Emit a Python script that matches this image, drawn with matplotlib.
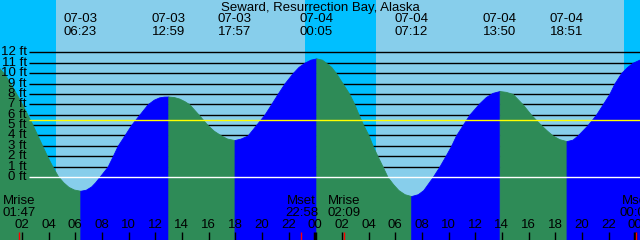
import matplotlib.pyplot as plt
from matplotlib.transforms import blended_transform_factory

plt.rcParams['font.family'] = ['Liberation Sans', 'DejaVu Sans']

title = 'Seward, Resurrection Bay, Alaska'

# tide extremes (high / low) as printed on the chart
ext_dates = ['07-03', '07-03', '07-03', '07-04', '07-04', '07-04', '07-04']
ext_times = ['06:23', '12:59', '17:57', '00:05', '07:12', '13:50', '18:51']
ext_feet = [-1.32, 7.75, 3.56, 11.42, -1.83, 8.28, 3.46]

# tide height (hours since 07-03 00:00, feet)
curve_hours = [0.30, 0.70, 1.10, 1.50, 1.90, 2.30, 2.70, 3.10, 3.50, 3.90, 4.30, 4.70,
               5.10, 5.50, 5.90,
               6.80, 7.20, 7.50, 7.81, 8.43, 8.81, 9.18, 9.69, 10.19, 10.81, 11.43,
               11.90, 12.30, 12.65,
               13.40, 13.81, 14.20, 14.56, 15.26, 15.93, 16.40, 16.94, 17.40,
               18.40, 18.93, 19.56, 20.19, 20.69, 21.18, 21.69, 22.31, 22.75, 23.19,
               23.65,
               24.50, 24.81, 25.20, 25.56, 26.06, 26.56, 26.94, 27.26, 27.61, 28.01,
               28.31, 28.68, 29.06, 29.43, 29.85, 30.24, 30.70,
               31.70, 32.11, 32.81, 33.31, 33.76, 34.19, 34.56, 35.06, 35.56, 36.31,
               36.80, 37.30,
               38.30, 38.81, 39.56, 40.19, 40.94, 41.40, 41.81, 42.30,
               43.30, 43.68, 44.43, 45.06, 45.56, 46.06, 46.44, 46.94, 47.40, 47.81,
               48.40]
curve_feet = [10.50, 9.90, 9.10, 8.20, 7.30, 6.30, 5.30, 4.20, 3.10, 2.00, 1.00, 0.10,
              -0.50, -0.95, -1.20,
              -1.22, -0.90, -0.50, 0.00, 1.00, 2.00, 3.00, 4.00, 5.00, 6.00, 7.00,
              7.45, 7.67, 7.74,
              7.70, 7.55, 7.30, 7.00, 6.00, 5.00, 4.45, 4.00, 3.70,
              3.70, 4.00, 5.00, 6.00, 7.00, 8.00, 9.00, 10.00, 10.60, 11.00,
              11.30,
              11.30, 11.00, 10.60, 10.00, 9.00, 8.00, 7.00, 6.00, 5.00, 4.00,
              3.00, 2.00, 1.00, 0.00, -0.70, -1.25, -1.65,
              -1.65, -1.25, 0.00, 1.00, 2.00, 3.00, 4.00, 5.00, 6.00, 7.10,
              7.70, 8.10,
              8.20, 8.00, 7.00, 6.00, 5.00, 4.45, 4.00, 3.65,
              3.60, 4.00, 5.00, 6.00, 7.00, 8.00, 9.00, 10.00, 10.60, 11.00,
              11.35]

sunrise = [4.58, 28.58]
sunset = [23.26, 47.18]

moon_events = ['Mrise', 'Mset', 'Mrise', 'Mset']
moon_times = ['01:47', '22:58', '02:09', '00:03']
moon_days = [0, 0, 1, 2]

ft_levels = list(range(1, 13))
mean_level = 5.46
fs = 9.5


def to_hours(day, hhmm):
    hh, mm = hhmm.split(':')
    return 24 * day + int(hh) + int(mm) / 60.0


ext_hours = [to_hours(0 if d == '07-03' else 1, t) for d, t in zip(ext_dates, ext_times)]
moon_hours = [to_hours(d, t) for d, t in zip(moon_days, moon_times)]

# full curve = readings + extremes
pts = sorted(zip(curve_hours + ext_hours, curve_feet + ext_feet))
t_all = [p[0] for p in pts]
y_all = [p[1] for p in pts]

h0 = 0.36
fig = plt.figure(figsize=(6.4, 2.4), dpi=100, facecolor='#00bfff')
ax = fig.add_axes([0, 0, 1, 1])
ax.set_xlim(h0, h0 + 48)
ax.set_ylim(-6.06, 17.04)
ax.axis('off')

# daylight
for r, s in zip(sunrise, sunset):
    ax.axvspan(r, s, color='#87ceeb', lw=0, zorder=0)

blend = blended_transform_factory(ax.transAxes, ax.transData)
ax.hlines(ft_levels, 29 / 640, 1, colors='black', lw=1, transform=blend, zorder=1)

# fill under the curve, green while falling, blue while rising
bounds = [t_all[0]] + ext_hours + [t_all[-1]]
for a, b in zip(bounds[:-1], bounds[1:]):
    seg = [(t, y) for t, y in zip(t_all, y_all) if a <= t <= b]
    ts = [p[0] for p in seg]
    ys = [p[1] for p in seg]
    col = '#0000ff' if ys[-1] > ys[0] else '#2e8b57'
    ax.fill_between(ts, ys, -10, color=col, lw=0.6, zorder=2)

ax.hlines([0], 29 / 640, 1, colors='white', lw=1, transform=blend, zorder=3)
ax.hlines([mean_level], 29 / 640, 1, colors='yellow', lw=1, transform=blend, zorder=3)

for lv in [0] + ft_levels:
    ax.text(27 / 640, lv, f'{lv} ft', transform=blend, ha='right', va='center',
            fontsize=fs, zorder=4)

# top labels
xb = ax.get_xaxis_transform()
ax.text(0.5, 1 - 7.5 / 240, title, transform=ax.transAxes, ha='center', va='center',
        fontsize=fs, zorder=4)
for h, d, t in zip(ext_hours, ext_dates, ext_times):
    ax.text(h, 1 - 19.5 / 240, d, transform=xb, ha='center', va='center', fontsize=fs, zorder=4)
    ax.text(h, 1 - 32 / 240, t, transform=xb, ha='center', va='center', fontsize=fs, zorder=4)

# hour axis
hours = list(range(2, 50, 2))
for h in hours:
    ax.vlines(h, 0, 8 / 240, colors='black', lw=2.5 if h % 24 == 0 else 1,
              transform=xb, zorder=5)
    ax.text(h, 1 - 225 / 240, f'{h % 24:02d}', transform=xb, ha='center', va='center',
            fontsize=fs, zorder=4)

# moon rise / set
for h, ev, t in zip(moon_hours, moon_events, moon_times):
    ax.vlines(h, 0, 8 / 240, colors='red', lw=1, transform=xb, zorder=6)
    ax.text(h, 1 - 201.5 / 240, ev, transform=xb, ha='center', va='center', fontsize=fs, zorder=4)
    ax.text(h, 1 - 213.5 / 240, t, transform=xb, ha='center', va='center', fontsize=fs, zorder=4)

fig.savefig('out.png', dpi=100, facecolor=fig.get_facecolor())
